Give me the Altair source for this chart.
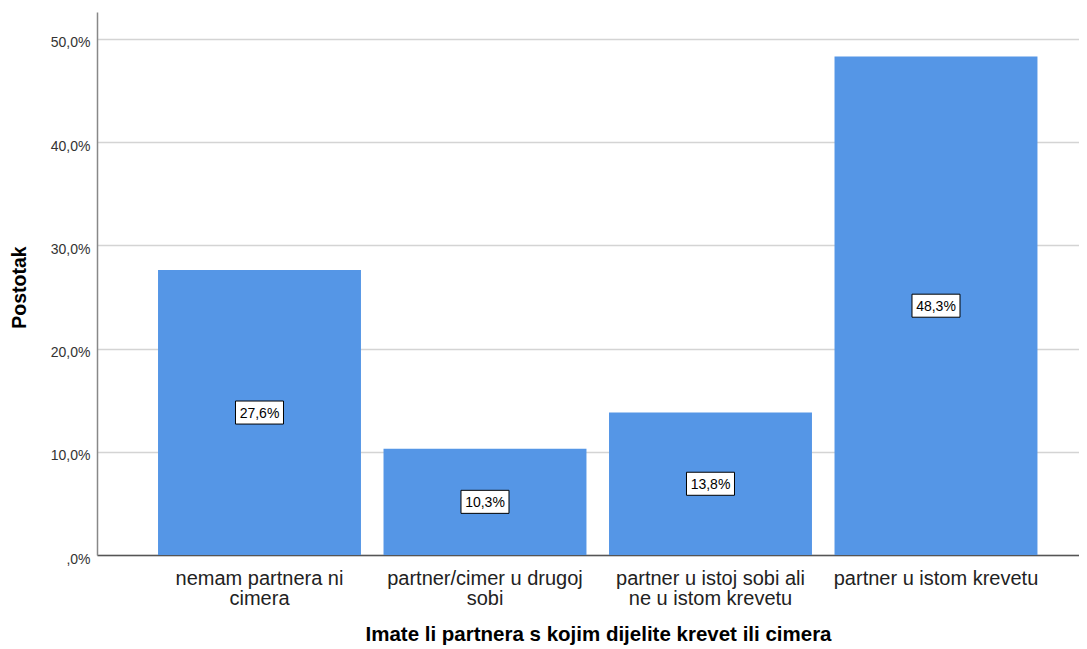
import altair as alt
import pandas as pd

categories = [
    "nemam partnera ni|cimera",
    "partner/cimer u drugoj|sobi",
    "partner u istoj sobi ali|ne u istom krevetu",
    "partner u istom krevetu",
]
percent = [27.6, 10.3, 13.8, 48.3]
value_labels = ["27,6%", "10,3%", "13,8%", "48,3%"]
y_ticks = [0, 10, 20, 30, 40, 50]

df = pd.DataFrame({"cat": categories, "pct": percent, "lab": value_labels})
df["mid"] = df["pct"] / 2

FONT = "Liberation Sans"

x_scale = alt.Scale(paddingInner=0.1, paddingOuter=0.2274, align=0.595)

x_enc = alt.X(
    "cat:N",
    sort=categories,
    scale=x_scale,
    axis=alt.Axis(
        title="Imate li partnera s kojim dijelite krevet ili cimera",
        labelExpr="split(datum.label, '|')",
        labelAngle=0,
        labelFontSize=20,
        labelColor="#222222",
        labelPadding=13,
        labelLineHeight=20,
        labelLimit=400,
        ticks=False,
        domainColor="#555555",
        domainWidth=1.5,
        titleFontSize=20.5,
        titleFontWeight="bold",
        titleColor="#000000",
        titleX=501,
        titleY=85,
        titleAlign="center",
        titleBaseline="alphabetic",
        grid=False,
    ),
)

y_scale = alt.Scale(domain=[0, 52.6], nice=False, zero=True)
y_axis = alt.Axis(
    values=y_ticks,
    labelExpr="datum.value == 0 ? ',0%' : replace(format(datum.value, '.1f'), '.', ',') + '%'",
    title="Postotak",
    titleFontSize=19.5,
    titleFontWeight="bold",
    titleColor="#000000",
    titleX=-78,
    titleY=275,
    titleAlign="center",
    titleBaseline="middle",
    titleAngle=270,
    ticks=False,
    domainColor="#888888",
    domainWidth=1.5,
    gridColor="#d4d4d4",
    gridWidth=1.5,
    labelFontSize=14,
    labelColor="#333333",
    labelPadding=7,
    labelOffset=4,
)

base = alt.Chart(df)

bars = base.mark_bar(color="#5596e6").encode(
    x=x_enc,
    y=alt.Y("pct:Q", scale=y_scale, axis=y_axis),
)

boxes = base.mark_point(
    shape="M-1,-0.48L1,-0.48L1,0.48L-1,0.48Z",
    size=48 * 48,
    filled=True,
    fill="white",
    stroke="black",
    strokeWidth=1,
    opacity=1,
).encode(
    x=alt.X("cat:N", sort=categories),
    y=alt.Y("mid:Q"),
)

texts = base.mark_text(fontSize=14, color="black", font=FONT, baseline="middle", dy=1).encode(
    x=alt.X("cat:N", sort=categories),
    y=alt.Y("mid:Q"),
    text="lab:N",
)

chart = (
    alt.layer(bars, boxes, texts)
    .properties(
        width=982,
        height=543,
        autosize=alt.AutoSizeParams(type="none"),
        padding={"left": 89, "top": 4, "right": 0, "bottom": 90},
    )
    .configure(font=FONT)
    .configure_view(stroke=None)
)

chart.save("out.html", embed_options={"renderer": "svg", "actions": False})
